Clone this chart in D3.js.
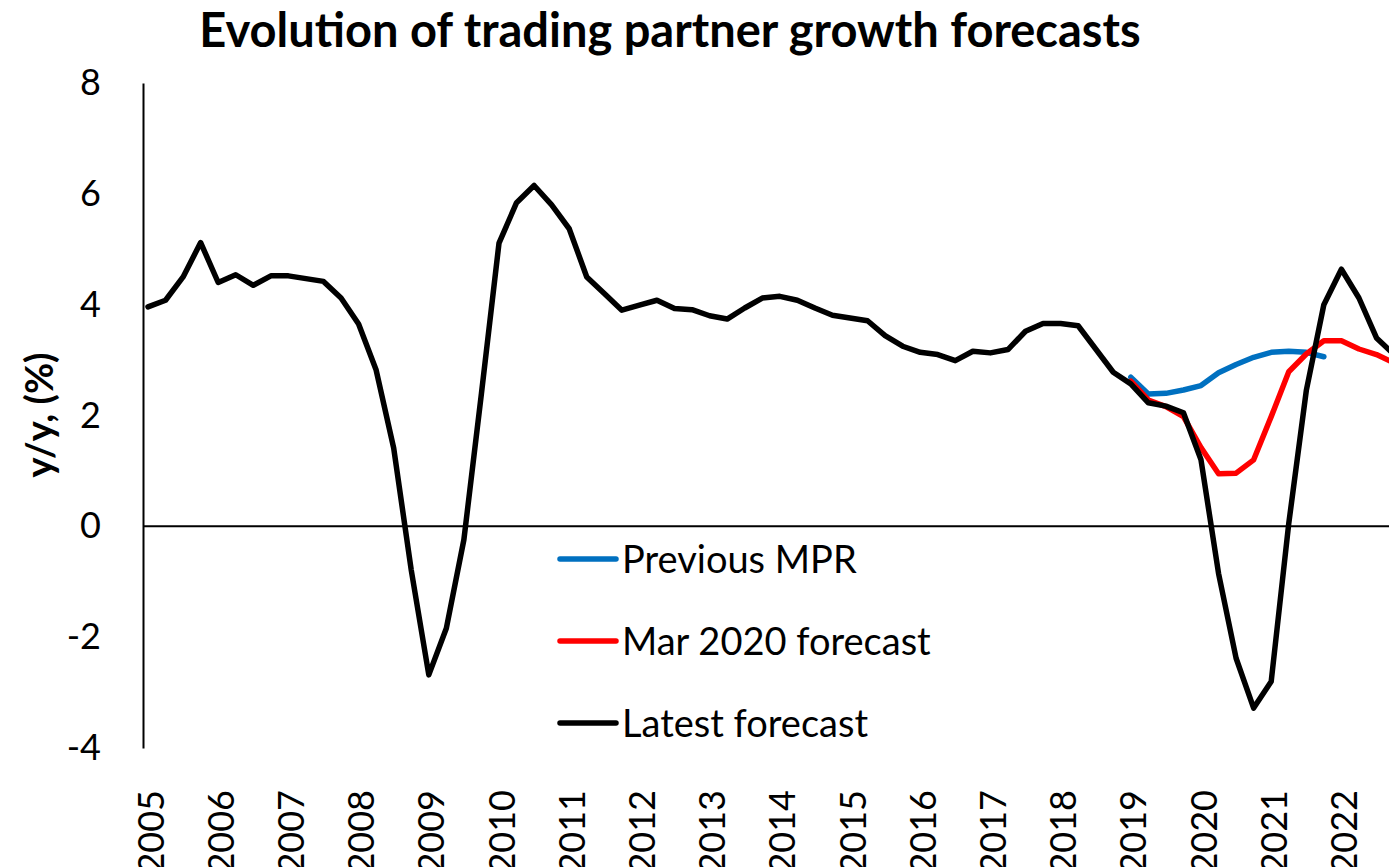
<!DOCTYPE html>
<html>
<head>
<meta charset="utf-8">
<script src="https://cdn.jsdelivr.net/npm/d3@7"></script>
<style>
  body { margin: 0; background: #fff; }
  svg { display: block; font-family: Lato, "Open Sans", sans-serif; }
</style>
</head>
<body>
<svg id="chart"></svg>
<script>
// Tick labels on the category axis (one per year, at Q1)
const years = [2005, 2006, 2007, 2008, 2009, 2010, 2011, 2012, 2013,
               2014, 2015, 2016, 2017, 2018, 2019, 2020, 2021, 2022];

// Quarterly categories 2005Q1 .. 2022Q4
const quarters = [];
years.forEach(y => ["Q1", "Q2", "Q3", "Q4"].forEach(q => quarters.push(y + q)));

// Latest forecast, y/y %, 2005Q1 - 2022Q4
const latest = [
  3.96, 4.08, 4.50, 5.12, 4.40, 4.54, 4.35, 4.52,   // 2005-2006
  4.52, 4.47, 4.42, 4.12, 3.65, 2.82, 1.41, -0.79,  // 2007-2008
  -2.68, -1.84, -0.24, 2.40, 5.11, 5.84, 6.15, 5.80, // 2009-2010
  5.37, 4.50, 4.20, 3.90, 3.99, 4.08, 3.93, 3.91,   // 2011-2012
  3.80, 3.74, 3.94, 4.12, 4.15, 4.08, 3.94, 3.81,   // 2013-2014
  3.76, 3.71, 3.44, 3.25, 3.14, 3.10, 2.99, 3.16,   // 2015-2016
  3.13, 3.19, 3.52, 3.66, 3.66, 3.62, 3.20, 2.78,   // 2017-2018
  2.57, 2.23, 2.17, 2.05, 1.20, -0.85, -2.38, -3.28, // 2019-2020
  -2.80, 0.05, 2.45, 4.00, 4.64, 4.12, 3.40, 3.10   // 2021-2022
];

// Mar 2020 forecast, from 2019Q1
const marStart = "2019Q1";
const mar2020 = [2.62, 2.28, 2.16, 1.98, 1.42, 0.95, 0.96, 1.20,
                 1.98, 2.79, 3.11, 3.35, 3.35, 3.20, 3.10, 2.95];

// Previous MPR, from 2019Q1
const prevStart = "2019Q1";
const previousMPR = [2.69, 2.39, 2.40, 2.46, 2.54, 2.77, 2.92, 3.05,
                     3.14, 3.16, 3.14, 3.06];

const yTicks = [-4, -2, 0, 2, 4, 6, 8];

const seriesNames = ["Previous MPR", "Mar 2020 forecast", "Latest forecast"];
const seriesColors = ["#0070C0", "#FF0000", "#000000"];

// ---- layout ----
const width = 1389, height = 867;
const axisX = 143;          // y axis line position
const plotTop = 83, plotBottom = 748;

const svg = d3.select("#chart")
    .attr("width", width)
    .attr("height", height);

// first point sits a little right of the axis, last quarter runs past the frame
const x = d3.scalePoint()
    .domain(quarters)
    .range([148, 148 + (quarters.length - 1) * 17.55]);

const y = d3.scaleLinear()
    .domain([-4, 8])
    .range([plotBottom, plotTop]);

// y axis (plain hyphen for negatives, like the original)
const yAxis = svg.append("g")
    .attr("transform", `translate(${axisX},0)`)
    .call(d3.axisLeft(y)
        .tickValues(yTicks)
        .tickFormat(d => String(d))
        .tickSize(0).tickSizeOuter(0).tickPadding(42));
yAxis.select(".domain").attr("stroke", "#000").attr("stroke-width", 2);
yAxis.selectAll("text")
    .attr("fill", "#000")
    .style("font-size", "36px")
    .style("font-family", "Lato, sans-serif");

// zero line
svg.append("line")
    .attr("x1", axisX).attr("x2", width)
    .attr("y1", y(0)).attr("y2", y(0))
    .attr("stroke", "#000").attr("stroke-width", 2);

// year labels along the bottom
const xAxis = svg.append("g")
    .attr("transform", `translate(0,${plotBottom})`)
    .call(d3.axisBottom(x)
        .tickValues(years.map(d => d + "Q1"))
        .tickFormat(d => d.slice(0, 4))
        .tickSize(0));
xAxis.select(".domain").remove();
xAxis.selectAll("text")
    .attr("transform", "rotate(-90)")
    .attr("x", -42)
    .attr("y", 0)
    .attr("dy", "0.42em")
    .attr("text-anchor", "end")
    .attr("fill", "#000")
    .style("font-size", "36px")
    .style("font-family", "Lato, sans-serif");

// lines
const line = d3.line()
    .x(d => x(d.q))
    .y(d => y(d.v));

function toPoints(values, start) {
  const s = quarters.indexOf(start);
  return values.map((v, i) => ({ q: quarters[s + i], v: v }));
}

const seriesData = [
  toPoints(previousMPR, prevStart),
  toPoints(mar2020, marStart),
  toPoints(latest, quarters[0])
];

// blue first, then red, black on top
seriesData.forEach((pts, k) => {
  svg.append("path")
      .datum(pts)
      .attr("fill", "none")
      .attr("stroke", seriesColors[k])
      .attr("stroke-width", 5.5)
      .attr("stroke-linejoin", "round")
      .attr("stroke-linecap", "round")
      .attr("d", line);
});

// legend
const legend = svg.append("g").attr("transform", "translate(560,559)");
seriesNames.forEach((name, k) => {
  const g = legend.append("g").attr("transform", `translate(0,${k * 82})`);
  g.append("line")
      .attr("x1", 0).attr("x2", 56)
      .attr("stroke", seriesColors[k])
      .attr("stroke-width", 5.5)
      .attr("stroke-linecap", "round");
  g.append("text")
      .attr("x", 62)
      .attr("dy", "0.36em")
      .style("font-size", "38px")
      .text(name);
});

// title
svg.append("text")
    .attr("x", 670)
    .attr("y", 47)
    .attr("text-anchor", "middle")
    .style("font-size", "47px")
    .style("font-weight", "bold")
    .text("Evolution of trading partner growth forecasts");

// y axis title
svg.append("text")
    .attr("transform", "translate(40,415) rotate(-90)")
    .attr("text-anchor", "middle")
    .attr("dy", "0.35em")
    .style("font-size", "38px")
    .style("font-weight", "bold")
    .text("y/y, (%)");
</script>
</body>
</html>
